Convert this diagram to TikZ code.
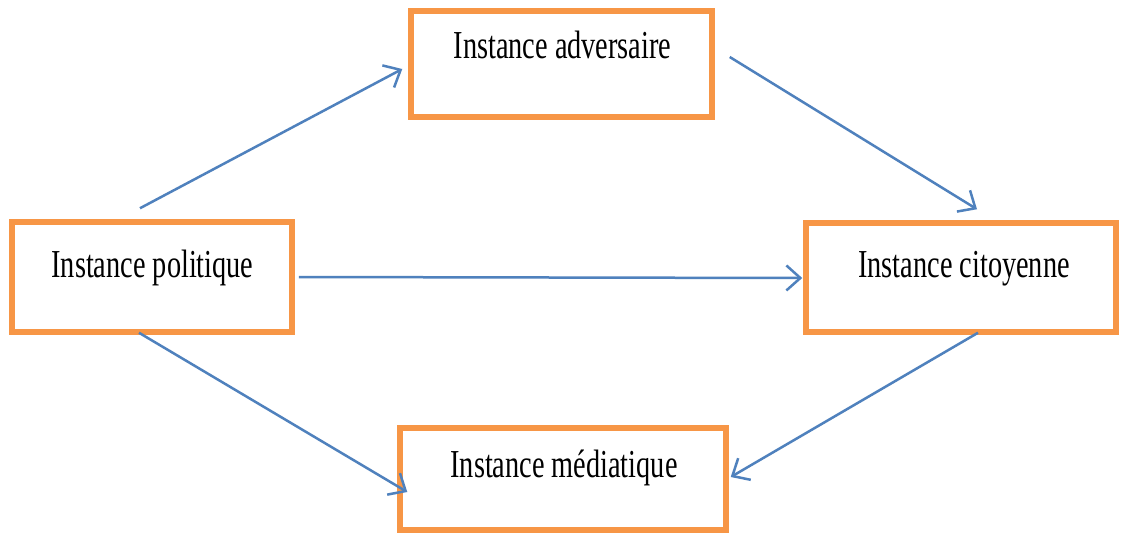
\documentclass[tikz,border=0pt]{standalone}
\usepackage{fontspec}
\setmainfont{Liberation Serif}
\usepackage{graphicx}
\usetikzlibrary{arrows.meta}
\definecolor{boxorange}{HTML}{F79646}
\definecolor{arrowblue}{HTML}{4F81BD}
\tikzset{
  box/.style={draw=boxorange, line width=5.5pt, rectangle, inner sep=0pt, fill=white},
  lbl/.style={anchor=base, inner sep=0pt, font=\fontsize{28.3}{34}\selectfont},
  conn/.style={draw=arrowblue, line width=2.5pt, -{Straight Barb[length=14pt,width=25pt]}}
}
\newcommand{\tallt}[1]{\scalebox{1}[1.4]{#1}}
\begin{document}
\begin{tikzpicture}[x=1pt,y=-1pt]
\useasboundingbox (0,0) rectangle (1121,535);
\fill[white] (0,0) rectangle (1121,535);
\node[box, minimum width=301pt, minimum height=106pt] (adv) at (561.5,64) {};
\node[box, minimum width=280pt, minimum height=110pt] (pol) at (152,277) {};
\node[box, minimum width=310pt, minimum height=109pt] (cit) at (961,277.5) {};
\node[box, minimum width=326pt, minimum height=102pt] (med) at (563,479) {};
\node[lbl] (tadv) at (562.5,59) {\tallt{Instance adversaire}};
\node[lbl] (tpol) at (152.5,277) {\tallt{Instance politique}};
\node[lbl] (tcit) at (964,277) {\tallt{Instance citoyenne}};
\node[lbl] (tmed) at (564,477) {\tallt{Instance médiatique}};
\draw[conn] ([xshift=-12pt,yshift=11pt]pol.north) -- ([xshift=-6pt,yshift=-5pt]adv.west);
\draw[conn] ([xshift=15pt,yshift=7pt]adv.east) -- ([xshift=16pt,yshift=11pt]cit.north);
\draw[conn] ([xshift=4pt]pol.east) -- ([xshift=-1pt,yshift=-0.5pt]cit.west);
\draw[conn] ([xshift=-13pt,yshift=2pt]pol.south) -- ([xshift=10pt,yshift=-13pt]med.west);
\draw[conn] ([xshift=17pt,yshift=2pt]cit.south) -- ([xshift=2pt,yshift=2pt]med.east);
\end{tikzpicture}
\end{document}
